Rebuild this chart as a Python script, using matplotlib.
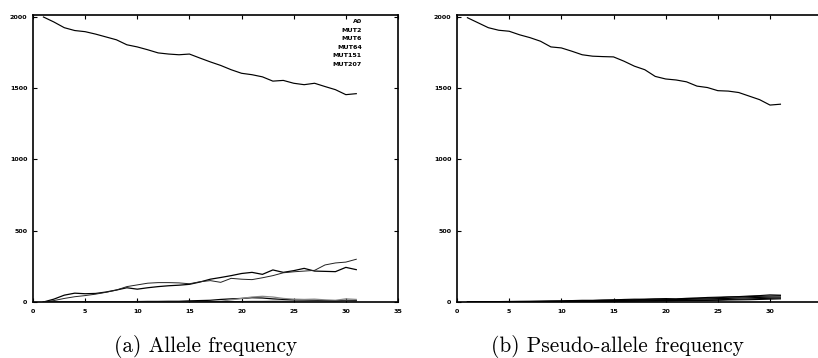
import numpy as np
import matplotlib
matplotlib.use('Agg')
import matplotlib.pyplot as plt

# generations (x axis)
gens = list(range(1, 32))

# (a) allele frequency
allele_labels = ['A0', 'MUT2', 'MUT6', 'MUT64', 'MUT151', 'MUT207']
a0 = [2000, 1965, 1925, 1905, 1897, 1880, 1860, 1840, 1805, 1790, 1770,
      1748, 1740, 1735, 1740, 1712, 1685, 1660, 1630, 1605, 1595, 1580,
      1550, 1555, 1535, 1525, 1535, 1512, 1490, 1455, 1462]
mut2 = [0, 20, 48, 62, 58, 60, 70, 84, 100, 90, 100, 108, 114, 118, 124,
        140, 160, 172, 185, 200, 208, 194, 225, 208, 220, 236, 217, 215,
        213, 243, 227]
mut6 = [0, 10, 25, 37, 45, 55, 68, 84, 108, 120, 132, 136, 136, 134, 128,
        142, 150, 138, 166, 160, 157, 170, 185, 205, 212, 217, 222, 260,
        274, 280, 300]
mut64 = [0, 0, 0, 0, 0, 0, 0, 0, 2, 3, 4, 4, 5, 5, 8, 10, 12, 18, 22, 25,
         30, 28, 22, 18, 15, 14, 12, 10, 8, 12, 10]
mut151 = [0, 0, 0, 0, 0, 0, 0, 0, 0, 0, 0, 0, 0, 0, 0, 2, 3, 5, 15, 25, 35,
          40, 35, 25, 20, 18, 20, 15, 12, 22, 18]
mut207 = [0, 0, 0, 0, 0, 0, 0, 0, 0, 0, 0, 0, 0, 1, 1, 2, 2, 3, 3, 4, 5, 5,
          6, 6, 7, 7, 8, 8, 8, 9, 8]

# (b) pseudo-allele frequency
p_a0 = [1995, 1960, 1925, 1907, 1900, 1875, 1855, 1830, 1790, 1783, 1760,
        1735, 1725, 1722, 1720, 1690, 1655, 1630, 1583, 1565, 1558, 1545,
        1515, 1505, 1483, 1480, 1470, 1445, 1420, 1382, 1388]
p_m1 = [0, 0, 2, 3, 4, 5, 5, 6, 7, 8, 10, 12, 12, 14, 15, 18, 20, 20, 22,
        24, 22, 26, 28, 32, 34, 36, 38, 42, 45, 50, 48]
p_m2 = [0, 1, 1, 2, 3, 3, 4, 5, 6, 6, 8, 9, 10, 12, 14, 15, 16, 18, 20, 19,
        20, 24, 26, 28, 30, 34, 35, 38, 40, 42, 44]
p_m3 = [0, 0, 1, 1, 2, 2, 3, 3, 4, 5, 6, 7, 8, 9, 10, 11, 12, 14, 15, 16,
        17, 18, 20, 22, 24, 25, 28, 30, 32, 34, 35]
p_m4 = [0, 0, 0, 1, 1, 1, 2, 2, 3, 3, 4, 4, 5, 6, 6, 7, 8, 9, 10, 10, 11,
        12, 14, 15, 16, 18, 20, 22, 24, 26, 28]
p_m5 = [0, 0, 0, 0, 1, 1, 1, 2, 2, 2, 3, 3, 4, 4, 5, 5, 6, 7, 7, 8, 9, 10,
        10, 11, 12, 14, 15, 16, 18, 20, 22]

captions = ['(a) Allele frequency', '(b) Pseudo-allele frequency']

fig = plt.figure(figsize=(8.18, 3.58), dpi=100)
ax1 = fig.add_axes([33 / 818, 1 - 302 / 358, 365 / 818, 287 / 358])
ax2 = fig.add_axes([457 / 818, 1 - 302 / 358, 361 / 818, 287 / 358])


def style_axes(ax, xmax, xticks):
    ax.set_xlim(0, xmax)
    ax.set_ylim(0, 2014)
    ax.set_xticks(xticks)
    ax.set_yticks([0, 500, 1000, 1500, 2000])
    ax.tick_params(direction='in', length=3, width=0.8, top=True, right=True,
                   labelsize=4.6, pad=4)
    ax.tick_params(axis='x', pad=5)
    for lab in ax.get_xticklabels() + ax.get_yticklabels():
        lab.set_fontweight('bold')
    for sp in ax.spines.values():
        sp.set_linewidth(1.2)


# panel (a)
ax1.plot(gens, a0, color='black', lw=0.85)
ax1.plot(gens, mut2, color='black', lw=0.9)
ax1.plot(gens, mut6, color='#222222', lw=0.7)
ax1.plot(gens, mut64, color='black', lw=0.9)
ax1.plot(gens, mut151, color='#888888', lw=0.9)
ax1.plot(gens, mut207, color='#444444', lw=0.7)
style_axes(ax1, 35, [0, 5, 10, 15, 20, 25, 30, 35])
for i, lab in enumerate(allele_labels):
    ax1.text(0.901, 0.9767 - i * 0.0296, lab, transform=ax1.transAxes,
             ha='right', va='center', fontsize=4.6, fontweight='bold')

# panel (b)
ax2.plot(gens, p_a0, color='black', lw=0.85)
for ser in [p_m1, p_m2, p_m3, p_m4, p_m5]:
    ax2.plot(gens, ser, color='black', lw=0.8)
style_axes(ax2, 34.6, [0, 5, 10, 15, 20, 25, 30])
ax2.spines['right'].set_visible(False)
ax2.tick_params(right=False)

fig.text(206 / 818, 0.018, captions[0], ha='center', va='baseline',
         fontsize=15.3, family='cmr10')
fig.text(617 / 818, 0.018, captions[1], ha='center', va='baseline',
         fontsize=15.3, family='cmr10')

fig.savefig('out.png', dpi=100)
